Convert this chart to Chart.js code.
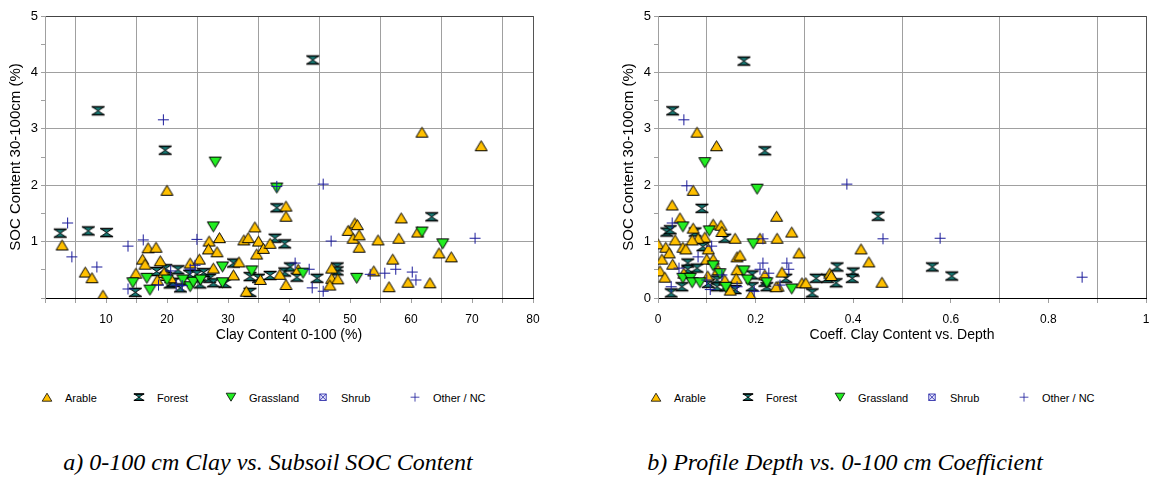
<!DOCTYPE html>
<html>
<head>
<meta charset="utf-8">
<script src="https://cdn.jsdelivr.net/npm/chart.js@4.4.1/dist/chart.umd.min.js"></script>
<style>
  body { margin: 0; background: #fff; width: 1159px; height: 479px; position: relative; overflow: hidden;
         font-family: "Liberation Sans", Arial, sans-serif; }
  canvas.plot { position: absolute; top: 0; }
  .leg { position: absolute; top: 390px; font-size: 11px; color: #000; }
  .leg canvas { position: absolute; top: 0; }
  .leg span { position: absolute; top: 1px; line-height: 14px; white-space: nowrap; }
  .cap { position: absolute; top: 449px; width: 580px; text-align: center;
         font-family: "Liberation Serif", "Times New Roman", serif; font-style: italic; font-size: 24px; }
</style>
</head>
<body>
<canvas id="clayChart" class="plot" width="580" height="350" style="left:0"></canvas>
<canvas id="coefChart" class="plot" width="579" height="350" style="left:580px"></canvas>
<div id="legends"></div>
<div class="cap" style="left:-22px">a) 0-100 cm Clay vs. Subsoil SOC Content</div>
<div class="cap" style="left:555px">b) Profile Depth vs. 0-100 cm Coefficient</div>
<script>
// land use classes, same order in both panels
const landUses = ['Arable', 'Forest', 'Grassland', 'Shrub', 'Other / NC'];

// panel a) clay content (%) vs SOC 30-100cm (%)
const clayArable = [[2.8,0.94],[6.6,0.46],[7.7,0.36],[9.5,0.05],[20,1.91],[14.9,0.44],[16,0.69],[16.4,0.6],
  [16.9,0.89],[18.2,0.9],[18.9,0.66],[20,0.4],[20.6,0.36],[19.5,0.45],[18.4,0.32],[23.8,0.62],[25.3,0.69],
  [26.9,1.01],[26.8,0.87],[27.6,0.53],[28.2,0.82],[28.6,1.07],[30.9,0.41],[31.8,0.64],[32.6,1.03],[33.3,1.07],
  [34.4,1.26],[34.7,0.78],[35,1.01],[35.8,0.88],[33,0.12],[35.3,0.33],[36.9,0.97],[38.5,0.42],[39.5,1.63],
  [39.5,1.45],[39.5,0.24],[49.7,1.2],[50.8,1.33],[51.2,1.3],[50.5,1.06],[51.5,1.12],[51.5,0.9],[54.6,1.03],
  [58,1.06],[58.4,1.42],[61.1,1.17],[64.6,0.8],[66.6,0.73],[57,0.69],[53.9,0.48],[56.4,0.2],[59.5,0.28],
  [63.1,0.27],[47,0.53],[47,0.35],[48,0.34],[46.7,0.23],[41.5,0.51],[61.8,2.94],[71.5,2.7]];
const clayForest = [[2.5,1.15],[7.1,1.19],[10.1,1.16],[8.7,3.32],[19.7,2.62],[43.9,4.22],[14.8,0.1],[18.3,0.47],
  [19.8,0.52],[21.8,0.5],[22.2,0.18],[23.7,0.42],[24.9,0.42],[25.4,0.25],[27,0.35],[27.6,0.27],[29.5,0.26],
  [30.9,0.62],[33.6,0.1],[33.6,0.38],[35,0.35],[36.9,0.4],[37.7,1.06],[38,1.6],[39.3,0.96],[39.3,0.46],
  [40.2,0.55],[41.3,0.37],[44.6,0.35],[47.9,0.55],[47.9,0.48],[63.4,1.44],[20.5,0.25],[26,0.45],[21,0.28]];
const clayGrass = [[27.9,2.41],[27.6,1.26],[38,1.95],[14.4,0.27],[17.2,0.14],[16.7,0.35],[20,0.32],[22.6,0.32],
  [23.8,0.2],[24.3,0.28],[25.5,0.32],[29.1,0.27],[29.1,0.55],[33.9,0.48],[42.3,0.44],[51.1,0.35],[61.8,1.17],
  [65.2,0.96]];
const clayShrub = [];
const clayOther = [[3.7,1.33],[4.4,0.73],[8.5,0.55],[13.6,0.92],[13.6,0.16],[16.1,1.03],[24.9,1.04],[23.8,0.51],
  [24.6,0.58],[21.5,0.23],[18.6,0.23],[19.4,3.16],[38,1.98],[45.6,2.02],[46.9,1.01],[70.5,1.06],[60.2,0.46],
  [60.8,0.32],[57.5,0.51],[55.7,0.44],[53.3,0.42],[43.8,0.18],[45.6,0.12],[41,0.62],[43.3,0.51],[20.6,0.48],
  [22.5,0.22]];

// panel b) clay coefficient vs depth, same SOC values
const coefArable = [[0.08,2.94],[0.12,2.7],[0.072,1.91],[0.029,1.65],[0.045,1.42],[0.243,1.45],[0.274,1.17],
  [0.072,1.24],[0.113,1.31],[0.129,1.29],[0.131,1.18],[0.158,1.06],[0.096,1.08],[0.082,1.06],[0.07,1.03],
  [0.035,1.03],[0.0,0.96],[0.016,0.9],[0.023,0.8],[0.051,0.9],[0.057,0.87],[0.103,0.87],[0.209,1.06],
  [0.244,1.06],[0.289,0.8],[0.008,0.69],[0.03,0.6],[0.004,0.48],[0.014,0.37],[0.1,0.69],[0.113,0.69],
  [0.162,0.73],[0.168,0.76],[0.053,0.44],[0.102,0.39],[0.123,0.5],[0.137,0.32],[0.148,0.14],[0.162,0.5],
  [0.16,0.35],[0.19,0.05],[0.219,0.41],[0.246,0.21],[0.242,0.2],[0.254,0.46],[0.295,0.27],[0.303,0.27],
  [0.352,0.44],[0.355,0.4],[0.416,0.87],[0.432,0.64],[0.459,0.28]];
const coefForest = [[0.03,3.32],[0.176,4.2],[0.219,2.61],[0.09,1.59],[0.018,1.17],[0.025,1.21],[0.076,1.17],
  [0.137,1.06],[0.092,0.91],[0.061,0.62],[0.061,0.51],[0.08,0.53],[0.049,0.2],[0.027,0.09],[0.103,0.26],
  [0.121,0.32],[0.121,0.2],[0.139,0.2],[0.158,0.15],[0.193,0.41],[0.193,0.2],[0.219,0.28],[0.223,0.2],
  [0.262,0.35],[0.316,0.09],[0.324,0.35],[0.347,0.35],[0.367,0.55],[0.365,0.27],[0.4,0.46],[0.398,0.35],
  [0.451,1.45],[0.562,0.55],[0.602,0.39]];
const coefGrass = [[0.096,2.4],[0.203,1.93],[0.051,1.26],[0.105,1.19],[0.195,0.96],[0.113,0.57],[0.051,0.35],
  [0.066,0.35],[0.07,0.27],[0.086,0.27],[0.127,0.43],[0.139,0.19],[0.176,0.48],[0.184,0.32],[0.223,0.27],
  [0.274,0.16]];
const coefShrub = [];
const coefOther = [[0.053,3.16],[0.059,1.99],[0.387,2.02],[0.029,1.33],[0.11,0.92],[0.215,1.05],[0.082,0.73],
  [0.043,0.53],[0.027,0.2],[0.1,0.32],[0.107,0.15],[0.131,0.41],[0.162,0.2],[0.197,0.12],[0.209,0.51],
  [0.215,0.62],[0.227,0.44],[0.25,0.23],[0.264,0.62],[0.268,0.51],[0.461,1.05],[0.578,1.06],[0.869,0.37]];

const yTitle = 'SOC Content 30-100cm (%)';
const clayTitle = 'Clay Content 0-100 (%)';
const coefTitle = 'Coeff. Clay Content vs. Depth';

// marker shapes drawn once, used as pointStyle images
function marker(kind, scale) {
  scale = scale || 1;
  const c = document.createElement('canvas');
  c.width = Math.round(15 * scale); c.height = Math.round(13 * scale);
  const g = c.getContext('2d');
  g.scale(scale, scale);
  g.lineWidth = 1; g.strokeStyle = '#000'; g.lineJoin = 'miter';
  if (kind === 'Arable') {
    g.beginPath(); g.moveTo(1.5, 11.5); g.lineTo(13.5, 11.5); g.lineTo(7.5, 1.5); g.closePath();
    g.fillStyle = '#ffc000'; g.fill(); g.stroke();
  } else if (kind === 'Grassland') {
    g.beginPath(); g.moveTo(1.5, 1.5); g.lineTo(13.5, 1.5); g.lineTo(7.5, 11.5); g.closePath();
    g.fillStyle = '#22ee22'; g.fill(); g.stroke();
  } else if (kind === 'Forest') {
    g.beginPath(); g.moveTo(1.5, 2.5); g.lineTo(13.5, 2.5); g.lineTo(7.5, 6.5);
    g.lineTo(13.5, 10.5); g.lineTo(1.5, 10.5); g.lineTo(7.5, 6.5); g.closePath();
    g.fillStyle = '#17807b'; g.fill(); g.stroke();
    g.lineWidth = 1.6;
    g.beginPath(); g.moveTo(1, 2.5); g.lineTo(14, 2.5); g.moveTo(1, 10.5); g.lineTo(14, 10.5); g.stroke();
  } else if (kind === 'Shrub') {
    g.strokeStyle = '#1a1aa0'; g.fillStyle = '#e8e8ff';
    g.fillRect(3.5, 2.5, 8, 8); g.strokeRect(3.5, 2.5, 8, 8);
    g.beginPath(); g.moveTo(3.5, 2.5); g.lineTo(11.5, 10.5); g.moveTo(11.5, 2.5); g.lineTo(3.5, 10.5); g.stroke();
  } else {
    g.strokeStyle = '#1a1a9a';
    g.beginPath(); g.moveTo(2, 6.5); g.lineTo(13, 6.5); g.moveTo(7.5, 1); g.lineTo(7.5, 12); g.stroke();
  }
  return c;
}

const pts = arr => arr.map(p => ({ x: p[0], y: p[1] }));
const gridGrey = '#a0a0a0';

function makeChart(id, series, xMin, xMax, xStep, xLabelStep, xTitleText, showZero, leftPad, rightPad) {
  const eps = 1e-9;
  const isMultiple = (v, s) => Math.abs(v / s - Math.round(v / s)) < 1e-6;
  return new Chart(document.getElementById(id), {
    type: 'scatter',
    data: {
      datasets: series.map((s, i) => ({
        label: landUses[i],
        data: pts(s),
        pointStyle: marker(landUses[i]),
        pointRadius: 6,
        order: [2, 4, 1, 3, 0][i]
      }))
    },
    options: {
      responsive: false,
      animation: false,
      events: [],
      layout: { padding: { top: 16, right: rightPad, left: leftPad, bottom: 6 } },
      plugins: { legend: { display: false }, tooltip: { enabled: false } },
      scales: {
        x: {
          type: 'linear', min: xMin, max: xMax,
          afterFit: s => { s.height = 46; },
          ticks: {
            stepSize: xStep, autoSkip: false, maxRotation: 0, padding: 9,
            color: '#000', font: { family: 'Liberation Sans', size: 12 },
            callback: v => (isMultiple(v, xLabelStep) && (showZero || v > eps)) ? +v.toFixed(2) : ''
          },
          grid: {
            color: c => {
              const v = c.tick.value;
              if (Math.abs(v - xMax) < eps) return '#555';
              return isMultiple(v, xLabelStep) ? 'rgba(0,0,0,0)' : gridGrey;
            },
            tickColor: gridGrey, tickLength: 5, lineWidth: 1
          },
          border: { color: '#000', width: 1 },
          title: { display: true, text: xTitleText, color: '#000', padding: 0,
                   font: { family: 'Liberation Sans', size: 14 } }
        },
        y: {
          min: 0, max: 5,
          afterFit: s => { s.width = 45; },
          ticks: {
            stepSize: 0.5, autoSkip: false, padding: 3,
            color: '#000', font: { family: 'Liberation Sans', size: 13 },
            callback: v => (Number.isInteger(v) && (showZero || v > 0)) ? v : ''
          },
          grid: {
            color: c => {
              const v = c.tick.value;
              if (v === 5) return '#444';
              return Number.isInteger(v) && v > 0 ? gridGrey : 'rgba(0,0,0,0)';
            },
            tickColor: gridGrey, tickLength: 4, lineWidth: 1
          },
          border: { color: gridGrey, width: 1 },
          title: { display: true, text: yTitle, color: '#000', padding: { top: 7, bottom: 0 },
                   font: { family: 'Liberation Sans', size: 15 } }
        }
      }
    }
  });
}

makeChart('clayChart', [clayArable, clayForest, clayGrass, clayShrub, clayOther],
  0, 80, 5, 10, clayTitle, false, 0, 47);
makeChart('coefChart', [coefArable, coefForest, coefGrass, coefShrub, coefOther],
  0, 1, 0.1, 0.2, coefTitle, true, 33, 13);

// legends under each panel
function legend(offsetX) {
  const box = document.createElement('div');
  box.className = 'leg';
  box.style.left = offsetX + 'px';
  landUses.forEach((name, i) => {
    const cx = 47 + i * 92;
    const icon = marker(name, 0.8);
    icon.style.left = (cx - icon.width / 2) + 'px';
    icon.style.top = '2px';
    box.appendChild(icon);
    const t = document.createElement('span');
    t.textContent = name;
    t.style.left = (cx + 18) + 'px';
    box.appendChild(t);
  });
  document.getElementById('legends').appendChild(box);
}
legend(0);
legend(609);
</script>
</body>
</html>
